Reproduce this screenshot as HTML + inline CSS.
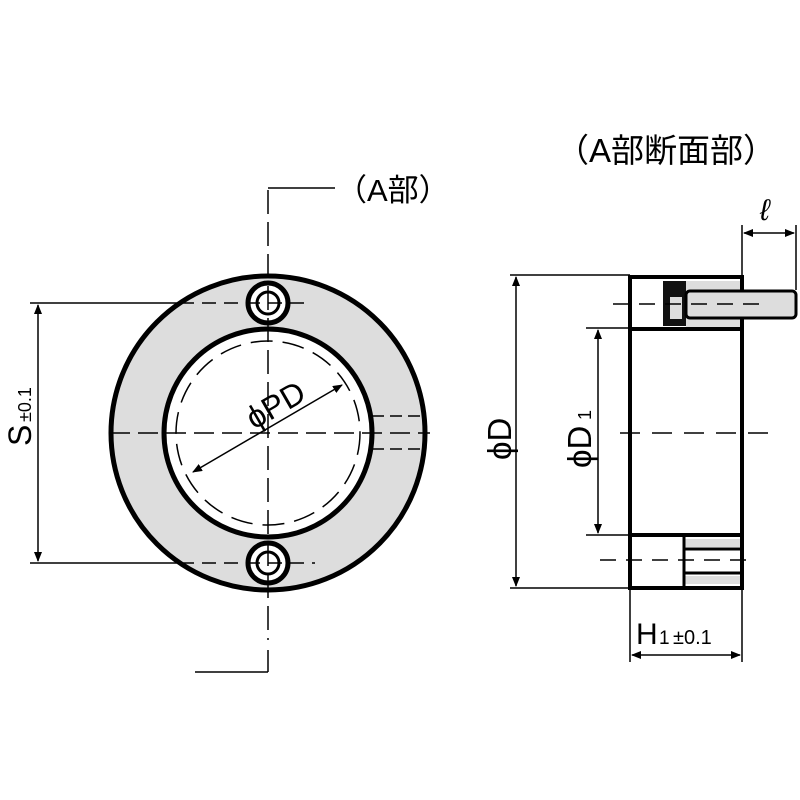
<!DOCTYPE html>
<html><head><meta charset="utf-8"><style>body{margin:0;background:#fff}svg{display:block}</style></head><body>
<svg width="800" height="800" viewBox="0 0 800 800" xmlns="http://www.w3.org/2000/svg" font-family="Liberation Sans, Noto Sans CJK JP, sans-serif">
<defs><marker id="a" markerWidth="10" markerHeight="8" refX="9" refY="4" orient="auto-start-reverse" markerUnits="userSpaceOnUse"><path d="M0,0 L10,4 L0,8 Z" fill="#000"/></marker></defs>
<rect width="800" height="800" fill="#fff"/>
<!-- left view -->
<circle cx="268" cy="433" r="157" fill="#ddd" stroke="#000" stroke-width="5"/>
<circle cx="268" cy="433" r="104" fill="#fff" stroke="#000" stroke-width="5"/>
<circle cx="268" cy="433" r="92" fill="none" stroke="#000" stroke-width="1.5" stroke-dasharray="22 10"/>
<circle cx="268" cy="303" r="20" fill="#fff" stroke="#000" stroke-width="5"/>
<circle cx="268" cy="303" r="11" fill="#fff" stroke="#000" stroke-width="3"/>
<circle cx="268" cy="563" r="20" fill="#fff" stroke="#000" stroke-width="5"/>
<circle cx="268" cy="563" r="11" fill="#fff" stroke="#000" stroke-width="3"/>
<g stroke="#000" stroke-width="1.5" fill="none">
<line x1="110" y1="433" x2="430" y2="433" stroke-dasharray="20 8"/>
<line x1="268" y1="190" x2="268" y2="640" stroke-dasharray="24 8"/>
<line x1="268" y1="188" x2="335" y2="188"/>
<line x1="30" y1="303" x2="180" y2="303"/><line x1="180" y1="303" x2="310" y2="303" stroke-dasharray="14 8"/>
<line x1="30" y1="563" x2="180" y2="563"/><line x1="180" y1="563" x2="315" y2="563" stroke-dasharray="14 8"/>
<line x1="372" y1="416" x2="420" y2="416" stroke-dasharray="12 6"/>
<line x1="372" y1="449" x2="420" y2="449" stroke-dasharray="12 6"/>
<line x1="38" y1="305" x2="38" y2="561" marker-start="url(#a)" marker-end="url(#a)"/>
<line x1="193" y1="472" x2="342" y2="385" marker-start="url(#a)" marker-end="url(#a)"/>
<line x1="195" y1="672" x2="268" y2="672"/><line x1="268" y1="650" x2="268" y2="672"/>
</g>
<text x="336" y="201" font-size="31">（A部）</text>
<text x="0" y="0" font-size="32" transform="translate(31,446) rotate(-90)">S</text>
<text x="0" y="0" font-size="18" transform="translate(31,422) rotate(-90)">±0.1</text>
<text x="0" y="0" font-size="32" transform="translate(254,430) rotate(-30)">ϕPD</text>
<!-- right view -->
<rect x="630" y="277" width="112" height="311" fill="#fff" stroke="#000" stroke-width="4"/>
<line x1="630" y1="329" x2="742" y2="329" stroke="#000" stroke-width="4"/>
<line x1="630" y1="535" x2="742" y2="535" stroke="#000" stroke-width="4"/>
<rect x="663" y="281" width="23" height="45" fill="#111"/>
<rect x="670" y="297" width="12" height="22" fill="#ddd"/>
<rect x="686" y="281" width="54" height="10" fill="#ddd"/>
<rect x="686" y="318" width="54" height="9" fill="#ddd"/>
<rect x="686" y="291" width="110" height="27" rx="4" fill="#ddd" stroke="#000" stroke-width="3"/>
<rect x="685" y="539" width="55" height="8" fill="#ddd"/>
<rect x="685" y="576" width="55" height="8" fill="#ddd"/>
<line x1="685" y1="549" x2="740" y2="549" stroke="#000" stroke-width="3"/>
<line x1="685" y1="573" x2="740" y2="573" stroke="#000" stroke-width="3"/>
<line x1="684" y1="537" x2="684" y2="586" stroke="#000" stroke-width="3"/>
<g stroke="#000" stroke-width="1.5" fill="none">
<line x1="510" y1="275" x2="630" y2="275"/>
<line x1="510" y1="588" x2="630" y2="588"/>
<line x1="586" y1="328" x2="630" y2="328"/>
<line x1="586" y1="535" x2="630" y2="535"/>
<line x1="516" y1="277" x2="516" y2="586" marker-start="url(#a)" marker-end="url(#a)"/>
<line x1="598" y1="330" x2="598" y2="533" marker-start="url(#a)" marker-end="url(#a)"/>
<line x1="620" y1="433" x2="770" y2="433" stroke-dasharray="20 12"/>
<line x1="613" y1="304" x2="760" y2="304" stroke-dasharray="16 10"/>
<line x1="600" y1="560" x2="750" y2="560" stroke-dasharray="16 10"/>
<line x1="630" y1="590" x2="630" y2="662"/><line x1="742" y1="590" x2="742" y2="662"/>
<line x1="632" y1="655" x2="740" y2="655" marker-start="url(#a)" marker-end="url(#a)"/>
<line x1="742" y1="225" x2="742" y2="277"/><line x1="796" y1="225" x2="796" y2="290"/>
<line x1="744" y1="233" x2="794" y2="233" marker-start="url(#a)" marker-end="url(#a)"/>
</g>
<text x="0" y="0" font-size="33" transform="translate(511,460) rotate(-90)">ϕD</text>
<text x="0" y="0" font-size="33" transform="translate(591,468) rotate(-90)">ϕD</text>
<text x="0" y="0" font-size="18" transform="translate(591,420) rotate(-90)">1</text>
<text x="636" y="644" font-size="30">H</text><text x="659" y="644" font-size="19">1</text><text x="673" y="644" font-size="20">±0.1</text>
<text x="760" y="220" font-size="30" font-style="italic">ℓ</text>
<text x="556" y="162" font-size="33">（A部断面部）</text>
</svg>
</body></html>
